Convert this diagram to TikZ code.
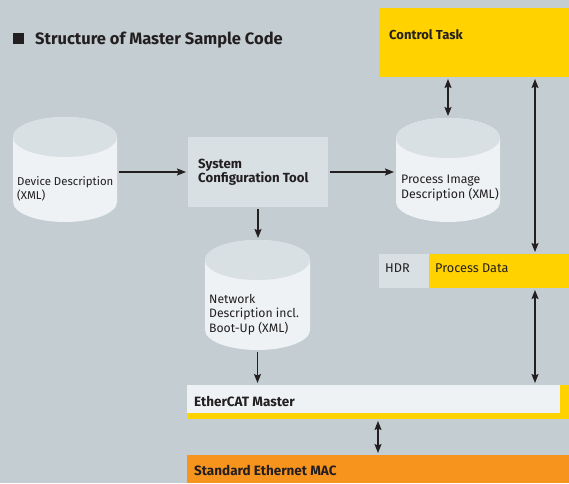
\documentclass[tikz,border=0pt]{standalone}
\usepackage{fontspec}
\setmainfont{Fira Sans}
\usetikzlibrary{arrows.meta}
\definecolor{bg}{HTML}{C3CDD2}
\definecolor{ylw}{HTML}{FFD200}
\definecolor{org}{HTML}{F7941E}
\definecolor{lite}{HTML}{D8E0E3}
\definecolor{pale}{HTML}{EEF2F4}
\definecolor{txt}{HTML}{231F20}
\newcommand\fsz[1]{\fontsize{#1}{#1}\selectfont}
\begin{document}
\begin{tikzpicture}[x=1pt,y=1pt,
  hit/.style={rectangle,inner sep=0pt,outer sep=0pt},
  box/.style={rectangle,inner sep=0pt,outer sep=0pt},
  lbl/.style={anchor=base west,inner sep=0pt,text=txt},
  arr/.style={draw=txt,line width=1.1pt,-{Stealth[length=9pt,width=7pt,inset=1.5pt]}},
  darr/.style={draw=txt,line width=1.1pt,{Stealth[length=9pt,width=7pt,inset=1.5pt]}-{Stealth[length=9pt,width=7pt,inset=1.5pt]}},
  cylbody/.style={fill=pale},
  cyltop/.style={fill=lite}]
\useasboundingbox (0,0) rectangle (569,-483);
\fill[bg] (0,0) rectangle (569,-483);

% title
\node[box,fill=txt,minimum size=11pt,anchor=north west] (sq) at (13,-32.5) {};
\node[lbl,font=\fsz{16.5}\bfseries] (title) at (35,-44.5) {Structure of Master Sample Code};

% control task
\node[box,fill=ylw,minimum width=190,minimum height=69] (ctl) at (474,-42.5) {};
\node[lbl,font=\fsz{13}\bfseries] (ctlt) at (389,-39) {Control Task};

% device description cylinder
\path[cylbody] (13,-137) -- (13,-202) arc[start angle=180,end angle=360,x radius=52,y radius=20] -- (117,-137) arc[start angle=0,end angle=180,x radius=52,y radius=20] -- cycle;
\path[cyltop] (65,-137) ellipse [x radius=52,y radius=20];
\node[hit,minimum width=104,minimum height=105] (dev) at (65,-169.5) {};
\node[lbl,font=\fsz{11.4}] (devt1) at (17,-185) {Device Description};
\node[lbl,font=\fsz{11.4}] (devt2) at (17,-199) {(XML)};

% system configuration tool
\node[box,fill=lite,minimum width=140,minimum height=70] (sct) at (258,-172) {};
\node[lbl,font=\fsz{13.2}\bfseries] (sctt1) at (198,-168) {System};
\node[lbl,font=\fsz{13.2}\bfseries] (sctt2) at (198,-182) {Configuration Tool};

% process image cylinder
\path[cylbody] (396,-138) -- (396,-202) arc[start angle=180,end angle=360,x radius=52,y radius=20] -- (500,-138) arc[start angle=0,end angle=180,x radius=52,y radius=20] -- cycle;
\path[cyltop] (448,-138) ellipse [x radius=52,y radius=20];
\node[hit,minimum width=104,minimum height=104] (pim) at (448,-170) {};
\node[lbl,font=\fsz{12.3}] (pimt1) at (401,-183) {Process Image};
\node[lbl,font=\fsz{12.3}] (pimt2) at (401,-198) {Description (XML)};

% network description cylinder
\path[cylbody] (205,-260) -- (205,-330) arc[start angle=180,end angle=360,x radius=52.5,y radius=20] -- (310,-260) arc[start angle=0,end angle=180,x radius=52.5,y radius=20] -- cycle;
\path[cyltop] (257.5,-260) ellipse [x radius=52.5,y radius=20];
\node[hit,minimum width=105,minimum height=110] (net) at (257.5,-295) {};
\node[lbl,font=\fsz{12.2}] (nett1) at (209,-303) {Network};
\node[lbl,font=\fsz{12.2}] (nett2) at (209,-317) {Description incl.};
\node[lbl,font=\fsz{12.2}] (nett3) at (209,-332) {Boot-Up (XML)};

% HDR / process data
\node[box,fill=lite,minimum width=50,minimum height=34] (hdr) at (404,-271) {};
\node[box,fill=ylw,minimum width=140,minimum height=34] (pd) at (499,-271) {};
\node[lbl,font=\fsz{12.7}] (hdrt) at (385,-272) {HDR};
\node[lbl,font=\fsz{12.7}] (pdt) at (435,-272) {Process Data};

% EtherCAT master
\node[box,fill=ylw,minimum width=382,minimum height=34] (ecat) at (378,-402) {};
\node[box,fill=pale,minimum width=373,minimum height=28] (ecatw) at (373.5,-399) {};
\node[lbl,font=\fsz{13.5}\bfseries] (ecatt) at (194,-406) {EtherCAT Master};

% standard ethernet MAC
\node[box,fill=org,minimum width=382,minimum height=28] (mac) at (378,-469) {};
\node[lbl,font=\fsz{13.5}\bfseries] (mact) at (194,-475) {Standard Ethernet MAC};

% connectors
\coordinate (rx) at (535,0);
\draw[arr] ([xshift=2pt]dev.east |- sct.west) -- ([xshift=-2pt]sct.west);
\draw[arr] ([xshift=2pt]sct.east) -- ([xshift=-2pt]pim.west |- sct.east);
\draw[darr] ([yshift=-2pt]ctl.south -| pim.north) -- ([yshift=2pt]pim.north);
\draw[darr] ([yshift=-2pt]ctl.south -| rx) -- ([yshift=2pt]pd.north -| rx);
\draw[arr] ([yshift=-2pt]sct.south) -- ([yshift=2pt]sct.south |- net.north);
\draw[arr] ([yshift=-2pt]net.south) -- ([yshift=2pt]net.south |- ecat.north);
\draw[darr] ([yshift=-2pt]pd.south -| rx) -- ([yshift=2pt]ecat.north -| rx);
\draw[darr] ([yshift=-2pt]ecat.south) -- ([yshift=2pt]mac.north);
\end{tikzpicture}
\end{document}
